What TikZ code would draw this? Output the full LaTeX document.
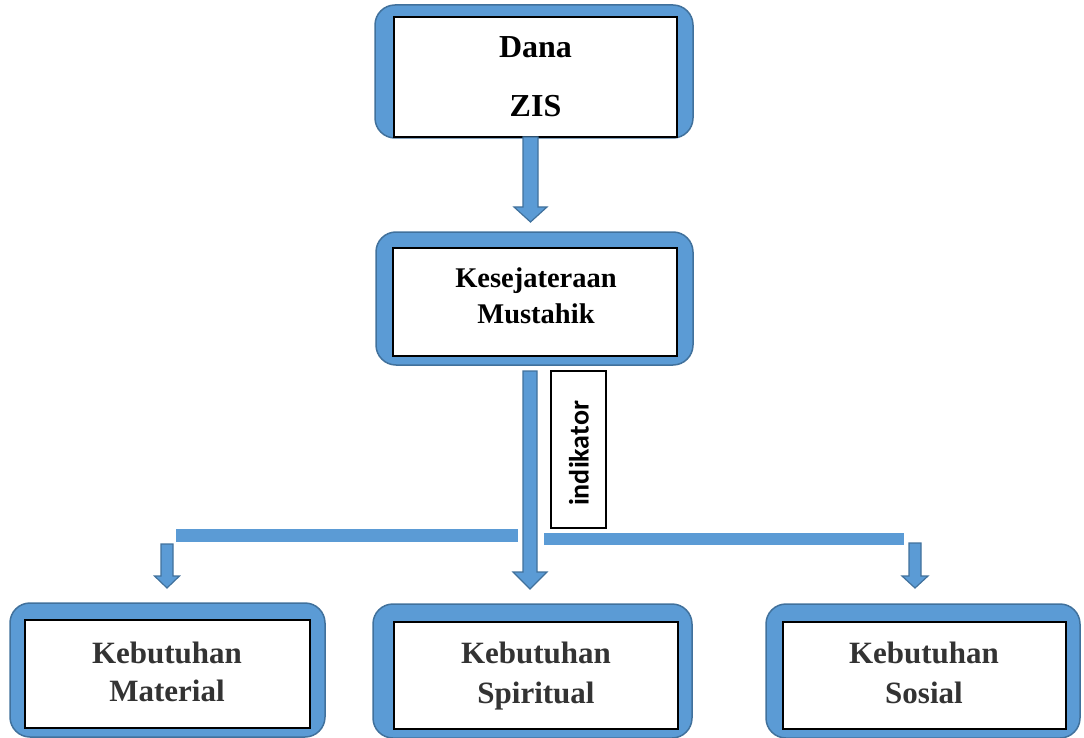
\documentclass[tikz,border=0pt]{standalone}
\usepackage{fontspec}
\setmainfont{Liberation Serif}
\newfontfamily\calibfont{Carlito}
\usetikzlibrary{calc}
\definecolor{boxblue}{HTML}{5B9BD5}
\definecolor{edgeblue}{HTML}{41719C}
\definecolor{txtgray}{HTML}{333333}
\tikzset{
  outerbox/.style={draw=edgeblue, line width=1.5pt, fill=boxblue, rounded corners=20pt, inner sep=0pt, outer sep=0pt},
  innerbox/.style={draw=black, line width=2pt, fill=white, inner sep=0pt, outer sep=0pt},
  toptext/.style={anchor=base, inner sep=0pt, font=\bfseries\fontsize{32}{38}\selectfont},
  midtext/.style={anchor=base, inner sep=0pt, font=\bfseries\fontsize{28.5}{34}\selectfont},
  bottext/.style={anchor=base, inner sep=0pt, text=txtgray, font=\bfseries\fontsize{31}{37}\selectfont},
  blockarrow/.style={fill=boxblue, draw=edgeblue, line width=1.2pt, line join=miter},
  barfill/.style={fill=boxblue},
  indbox/.style={draw=black, line width=1.5pt, fill=white, inner sep=0pt, outer sep=0pt},
}
\newcommand\blockarrow[5]{%
  \draw[blockarrow] ($(#1)+(-#3,0)$) -- ($(#2)+(-#3,-#5)$) -- ($(#2)+(-#4,-#5)$) -- (#2)
    -- ($(#2)+(#4,-#5)$) -- ($(#2)+(#3,-#5)$) -- ($(#1)+(#3,0)$) -- cycle;}
\begin{document}
\begin{tikzpicture}[x=1pt,y=-1pt]
\useasboundingbox (0,0) rectangle (1084,738);
% top box
\node[outerbox, minimum width=318pt, minimum height=133pt] (o1) at (534,71.5) {};
\node[innerbox, minimum width=283pt, minimum height=120pt] (i1) at (535.5,77) {};
\node[toptext] (t1a) at (535.5,58) {Dana};
\node[toptext] (t1b) at (535.5,117) {ZIS};
% middle box
\node[outerbox, minimum width=317pt, minimum height=133pt] (o2) at (534.5,298.5) {};
\node[innerbox, minimum width=284pt, minimum height=108pt] (i2) at (535,302) {};
\node[midtext] (t2a) at (536,287) {Kesejateraan};
\node[midtext] (t2b) at (536,323) {Mustahik};
% bottom boxes
\node[outerbox, minimum width=315pt, minimum height=134pt] (o3) at (167.5,670) {};
\node[innerbox, minimum width=285pt, minimum height=108pt] (i3) at (167.5,674) {};
\node[bottext] (t3a) at (167,663) {Kebutuhan};
\node[bottext] (t3b) at (167,701) {Material};
\node[outerbox, minimum width=319pt, minimum height=134pt] (o4) at (532.5,671) {};
\node[innerbox, minimum width=284pt, minimum height=107pt] (i4) at (536,675.5) {};
\node[bottext] (t4a) at (536,663) {Kebutuhan};
\node[bottext] (t4b) at (536,703) {Spiritual};
\node[outerbox, minimum width=314pt, minimum height=134pt] (o5) at (923,671) {};
\node[innerbox, minimum width=283pt, minimum height=107pt] (i5) at (924.5,675.5) {};
\node[bottext] (t5a) at (924,663) {Kebutuhan};
\node[bottext] (t5b) at (924,703) {Sosial};
% indikator label
\node[indbox, minimum width=55pt, minimum height=157pt] (ind) at (578.5,449.5) {};
\node[rotate=90, inner sep=0pt, font=\calibfont\bfseries\fontsize{28}{32}\selectfont] (indt) at (579,453.5) {indikator};
% connectors
\coordinate (a1s) at (530.5,137);
\coordinate (a1e) at (530.5,222);
\blockarrow{a1s}{a1e}{7.5}{16.5}{15}
\coordinate (a2s) at (530,371);
\coordinate (a2e) at (530,589);
\blockarrow{a2s}{a2e}{7}{17}{17}
\coordinate (bl1) at (176,529);
\coordinate (bl2) at (518,542);
\fill[barfill] (bl1) rectangle (bl2);
\coordinate (br1) at (544,533);
\coordinate (br2) at (904,545);
\fill[barfill] (br1) rectangle (br2);
\coordinate (a3s) at (167,544);
\coordinate (a3e) at (167,588);
\blockarrow{a3s}{a3e}{6}{12.5}{12}
\coordinate (a4s) at (915,543);
\coordinate (a4e) at (915,588);
\blockarrow{a4s}{a4e}{6}{13}{12}
\end{tikzpicture}
\end{document}
